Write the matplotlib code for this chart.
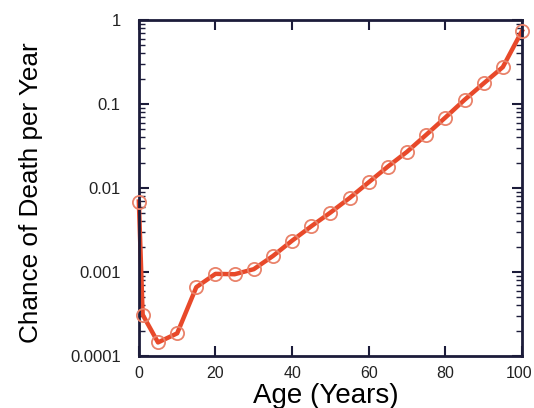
import matplotlib
matplotlib.use("Agg")
import matplotlib.pyplot as plt
from matplotlib.ticker import LogLocator, FixedLocator, FixedFormatter, NullFormatter
from matplotlib.transforms import ScaledTranslation

plt.rcParams['font.family'] = ['Liberation Sans', 'DejaVu Sans']

ages = [0, 1, 5, 10, 15, 20, 25, 30, 35, 40, 45, 50, 55, 60, 65, 70, 75, 80, 85, 90, 95, 100]
death_rate = [0.0069, 0.00031, 0.000145, 0.000186, 0.00066, 0.00095, 0.00094, 0.00108,
              0.00155, 0.00236, 0.0035, 0.0051, 0.0076, 0.0117, 0.018, 0.027, 0.043,
              0.069, 0.112, 0.176, 0.275, 0.74]
x_ticks = [0, 20, 40, 60, 80, 100]
y_ticks = [0.0001, 0.001, 0.01, 0.1, 1]
y_tick_labels = ['0.0001', '0.001', '0.01', '0.1', '1']

fig = plt.figure(figsize=(5.34, 4.08), dpi=100)
ax = fig.add_axes([0.260, 0.1275, 0.7175, 0.8235])

line_color = '#E8492A'
ax.plot(ages, death_rate, color=line_color, lw=3.2, zorder=2, clip_on=False)
ax.plot(ages, death_rate, linestyle='none', marker='o', markersize=9.5, markerfacecolor='none',
        markeredgecolor='#E9826A', markeredgewidth=1.3, zorder=3, clip_on=False)

ax.set_yscale('log')
ax.set_xlim(0, 100)
ax.set_ylim(1e-4, 1)

ax.xaxis.set_major_locator(FixedLocator(x_ticks))
ax.yaxis.set_major_locator(FixedLocator(y_ticks))
ax.yaxis.set_major_formatter(FixedFormatter(y_tick_labels))
ax.yaxis.set_minor_locator(LogLocator(base=10, subs=range(2, 10)))
ax.yaxis.set_minor_formatter(NullFormatter())

spine_color = '#1c1c3a'
for s in ax.spines.values():
    s.set_color(spine_color)
    s.set_linewidth(2)

ax.tick_params(axis='both', which='major', direction='in', length=7, width=1.5,
               color=spine_color, labelsize=12, labelcolor='#222222',
               top=True, right=True)
ax.tick_params(axis='x', which='major', pad=7, labelsize=11.5)
ax.tick_params(axis='y', which='major', pad=13)
ax.tick_params(axis='y', which='minor', direction='in', length=4, width=1.0,
               color=spine_color, right=True, left=True)
ax.tick_params(axis='x', which='minor', bottom=False, top=False)

ax.set_xlabel('Age (Years)', fontsize=20, color='black')
ax.xaxis.set_label_coords(0.487, -0.08)
ax.set_ylabel('Chance of Death per Year', fontsize=18.8, color='black')
ax.yaxis.set_label_coords(-0.25, 0.485)

fig.canvas.draw()
last = ax.xaxis.get_major_ticks()[-1].label1
last.set_horizontalalignment('right')
last.set_transform(last.get_transform() + ScaledTranslation(0.10, 0, fig.dpi_scale_trans))

fig.savefig('out.png', dpi=100)
